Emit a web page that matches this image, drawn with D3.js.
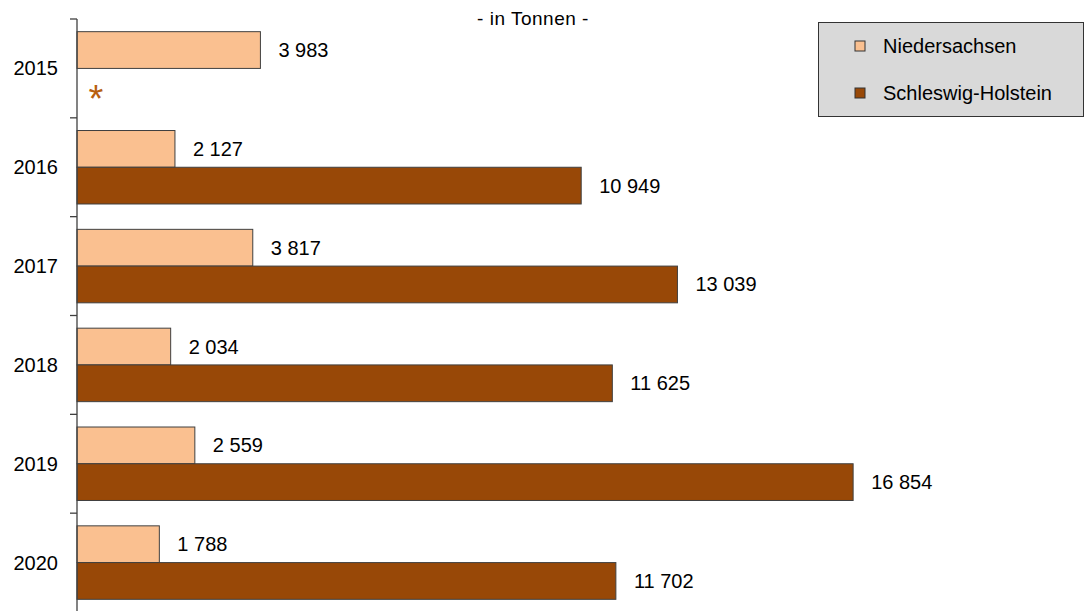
<!DOCTYPE html>
<html>
<head>
<meta charset="utf-8">
<script src="https://cdn.jsdelivr.net/npm/d3@7"></script>
<style>
  body { margin: 0; background: #fff; }
  text { font-family: "Liberation Sans", Arial, sans-serif; fill: #000; }
</style>
</head>
<body>
<div class="chart"></div>
<script>
// data
const years = ['2015', '2016', '2017', '2018', '2019', '2020'];
const series = ['Niedersachsen', 'Schleswig-Holstein'];
const niedersachsen = [3983, 2127, 3817, 2034, 2559, 1788];
const schleswigHolstein = [null, 10949, 13039, 11625, 16854, 11702]; // 2015: keine Angabe (*)
const colors = ['#fac090', '#984807'];

const width = 1092;
const height = 611;

const svg = d3.select('.chart')
  .append('svg')
  .attr('width', width)
  .attr('height', height);

const x = d3.scaleLinear().domain([0, 20000]).range([77, 77 + 0.04605 * 20000]);
const y = d3.scaleBand().domain(years).range([19, 612]);
const ySub = d3.scaleBand().domain(series).range([0, y.bandwidth()]).paddingOuter(0.345);

const fmt = d3.formatLocale({decimal: ',', thousands: ' ', grouping: [3], currency: ['', '']}).format(',d');

const rows = years.map((yr, i) => ({year: yr, values: [niedersachsen[i], schleswigHolstein[i]]}));

// title
svg.append('text')
  .attr('x', 533)
  .attr('y', 20)
  .attr('text-anchor', 'middle')
  .attr('dominant-baseline', 'middle')
  .attr('font-size', '19px')
  .attr('letter-spacing', '0.5px')
  .text('- in Tonnen -');

// bars
const groups = svg.selectAll('g.year')
  .data(rows)
  .enter()
  .append('g')
  .attr('class', 'year')
  .attr('transform', d => 'translate(0,' + y(d.year) + ')');

const cells = groups.selectAll('g.cell')
  .data(d => d.values.map((v, j) => ({v: v, s: series[j], j: j})))
  .enter()
  .append('g')
  .attr('class', 'cell');

cells.filter(d => d.v != null)
  .append('rect')
  .attr('x', x(0))
  .attr('y', d => ySub(d.s))
  .attr('width', d => x(d.v) - x(0))
  .attr('height', ySub.bandwidth())
  .attr('fill', d => colors[d.j])
  .attr('stroke', '#404040')
  .attr('stroke-width', 1);

cells.filter(d => d.v != null)
  .append('text')
  .attr('x', d => x(d.v) + 18)
  .attr('y', d => ySub(d.s) + ySub.bandwidth() / 2)
  .attr('dominant-baseline', 'central')
  .attr('font-size', '20px')
  .text(d => fmt(d.v));

// missing value marker
cells.filter(d => d.v == null)
  .append('text')
  .attr('x', 96)
  .attr('y', d => ySub(d.s) + ySub.bandwidth() / 2 + 25)
  .attr('text-anchor', 'middle')
  .attr('font-size', '38px')
  .style('fill', '#b8600f')
  .text('*');

// axis
const axisTicks = years.map(yr => y(yr)).concat([y.range()[1]]);
svg.append('line')
  .attr('x1', 77).attr('x2', 77)
  .attr('y1', 19).attr('y2', height)
  .attr('stroke', '#404040')
  .attr('stroke-width', 1.3);

svg.selectAll('line.tick')
  .data(axisTicks)
  .enter()
  .append('line')
  .attr('class', 'tick')
  .attr('x1', 70).attr('x2', 77)
  .attr('y1', d => d).attr('y2', d => d)
  .attr('stroke', '#404040')
  .attr('stroke-width', 1.3);

svg.selectAll('text.year')
  .data(years)
  .enter()
  .append('text')
  .attr('class', 'year')
  .attr('x', 58)
  .attr('y', d => y(d) + y.bandwidth() / 2)
  .attr('text-anchor', 'end')
  .attr('dominant-baseline', 'central')
  .attr('font-size', '20px')
  .text(d => d);

// legend
const legend = svg.append('g');
legend.append('rect')
  .attr('x', 818.5).attr('y', 22.5)
  .attr('width', 265).attr('height', 94)
  .attr('fill', '#d9d9d9')
  .attr('stroke', '#333')
  .attr('stroke-width', 1);

const items = legend.selectAll('g.item')
  .data(series)
  .enter()
  .append('g')
  .attr('class', 'item')
  .attr('transform', (d, i) => 'translate(0,' + (46 + i * 47) + ')');

items.append('rect')
  .attr('x', 855).attr('y', -5)
  .attr('width', 10).attr('height', 10)
  .attr('fill', (d, i) => colors[i])
  .attr('stroke', '#333');

items.append('text')
  .attr('x', 883)
  .attr('y', 0)
  .attr('dominant-baseline', 'central')
  .attr('font-size', '20px')
  .text(d => d);
</script>
</body>
</html>
